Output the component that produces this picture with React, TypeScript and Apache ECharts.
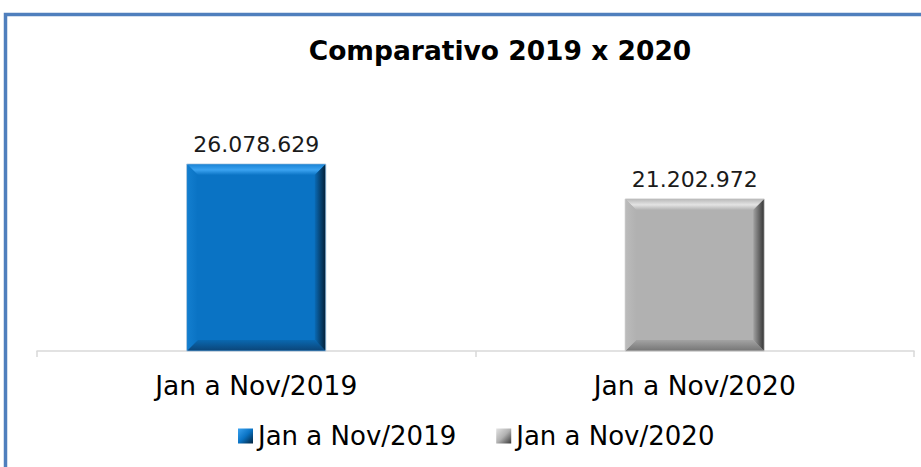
import React, { useEffect, useRef } from "react";
import * as echarts from "echarts";

const title = "Comparativo 2019 x 2020";
const categories = ["Jan a Nov/2019", "Jan a Nov/2020"];
const values = [26078629, 21202972];

const FONT = "DejaVu Sans";

type Pal = { main: string; top: string[]; right: string[]; bottom: string[]; left: string[]; edge: string };
const palettes: Pal[] = [
  {
    main: "#0A73C4",
    top: ["#1C86D8", "#3BA3F1", "#0A73C4"],
    right: ["#0A6AB5", "#03223B"],
    bottom: ["#0A68B0", "#0B467A"],
    left: ["#137ECF", "#0A73C4"],
    edge: "#A9C4DC",
  },
  {
    main: "#B1B1B1",
    top: ["#BDBDBD", "#E3E3E3", "#B1B1B1"],
    right: ["#A2A2A2", "#383838"],
    bottom: ["#A3A3A3", "#777777"],
    left: ["#BBBBBB", "#B1B1B1"],
    edge: "#C8C8C8",
  },
];

const fmt = (v: number) => Math.round(v).toString().replace(/\B(?=(\d{3})+(?!\d))/g, ".");

const vgrad = (stops: string[]) =>
  new echarts.graphic.LinearGradient(0, 0, 0, 1, stops.map((c, i) => ({ offset: i / (stops.length - 1), color: c })));
const hgrad = (stops: string[]) =>
  new echarts.graphic.LinearGradient(0, 0, 1, 0, stops.map((c, i) => ({ offset: i / (stops.length - 1), color: c })));

export default function App() {
  const ref = useRef<HTMLDivElement>(null);
  useEffect(() => {
    if (!ref.current) return;
    const chart = echarts.init(ref.current, null, { renderer: "svg" });

    const renderItem = (pal: Pal) => (params: any, api: any) => {
      const cat = api.value(0);
      const val = api.value(1);
      const topPt = api.coord([cat, val]);
      const basePt = api.coord([cat, 0]);
      const band = api.size([1, 0])[0];
      const w = band * 0.317;
      const x0 = topPt[0] - w / 2;
      const x1 = x0 + w;
      const y0 = topPt[1];
      const y1 = basePt[1];
      const b = 11;
      return {
        type: "group",
        children: [
          { type: "rect", shape: { x: x0, y: y0, width: w, height: y1 - y0 }, style: { fill: pal.main, stroke: pal.edge, lineWidth: 1 } },
          { type: "polygon", shape: { points: [[x0 + 0.5, y0 + 0.5], [x1 - 0.5, y0 + 0.5], [x1 - b, y0 + b], [x0 + b, y0 + b]] }, style: { fill: vgrad(pal.top) } },
          { type: "polygon", shape: { points: [[x0 + 0.5, y1 - 0.5], [x1 - 0.5, y1 - 0.5], [x1 - b, y1 - b], [x0 + b, y1 - b]] }, style: { fill: vgrad(pal.bottom) } },
          { type: "polygon", shape: { points: [[x0 + 0.5, y0 + 0.5], [x0 + b, y0 + b], [x0 + b, y1 - b], [x0 + 0.5, y1 - 0.5]] }, style: { fill: hgrad(pal.left) } },
          { type: "polygon", shape: { points: [[x1 - 0.5, y0 + 0.5], [x1 - b, y0 + b], [x1 - b, y1 - b], [x1 - 0.5, y1 - 0.5]] }, style: { fill: hgrad(pal.right) } },
          {
            type: "text",
            x: topPt[0],
            y: y0 - 9,
            style: { text: fmt(val), fill: "#1a1a1a", font: `22px '${FONT}'`, align: "center", verticalAlign: "bottom" },
          },
        ],
      };
    };

    chart.setOption({
      animation: false,
      title: {
        text: title,
        left: 495,
        textAlign: "center",
        top: 32,
        textStyle: { fontFamily: FONT, fontSize: 26.5, fontWeight: "bold", color: "#000" },
      },
      grid: { left: 37, right: 7, top: 136, bottom: 116, containLabel: false },
      legend: {
        left: 233,
        top: 418,
        itemWidth: 15,
        itemHeight: 15,
        itemGap: 40,
        textStyle: { fontFamily: FONT, fontSize: 26, color: "#000" },
        data: categories.map((c, i) => ({
          name: c,
          icon: "rect",
          itemStyle: { color: new echarts.graphic.LinearGradient(0, 0, 1, 1, [
            { offset: 0, color: palettes[i].top[1] },
            { offset: 0.5, color: palettes[i].main },
            { offset: 1, color: palettes[i].right[1] },
          ]) },
        })),
      },
      xAxis: {
        type: "category",
        data: categories,
        axisLine: { lineStyle: { color: "#D9D9D9", width: 1.5 } },
        axisTick: { show: true, length: 6, lineStyle: { color: "#D9D9D9", width: 1.5 } },
        axisLabel: { fontFamily: FONT, fontSize: 26.5, color: "#000", margin: 21 },
      },
      yAxis: { type: "value", min: 0, max: 30000000, show: false, splitLine: { show: false } },
      graphic: [
        {
          type: "rect",
          shape: { x: 5.5, y: 14.5, width: 1400, height: 1400 },
          style: { fill: "none", stroke: "#4F7FBD", lineWidth: 3.5 },
          silent: true,
          z: 100,
        },
      ],
      series: categories.map((c, i) => ({
        type: "custom",
        name: c,
        itemStyle: { color: palettes[i].main },
        renderItem: renderItem(palettes[i]),
        encode: { x: 0, y: 1 },
        data: [[i, values[i]]],
      })),
    });
    return () => chart.dispose();
  }, []);
  return <div ref={ref} style={{ position: "absolute", left: 0, top: 0, width: 921, height: 467, background: "#fff" }} />;
}
